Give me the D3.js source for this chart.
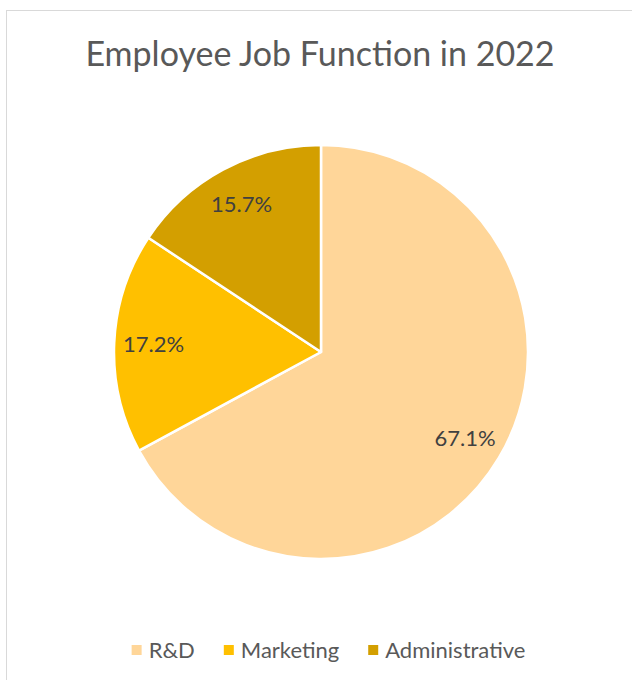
<!DOCTYPE html>
<html>
<head>
<meta charset="utf-8">
<script src="https://cdn.jsdelivr.net/npm/d3@7"></script>
<style>
  html, body { margin: 0; padding: 0; background: #fff; }
  svg { display: block; font-family: Lato, "Open Sans", sans-serif; }
</style>
</head>
<body>
<svg id="chart" width="632" height="680"></svg>
<script>
// Job function shares of employees, 2022
const categories = ["R&D", "Marketing", "Administrative"];
const shares = [67.1, 17.2, 15.7];
const colors = ["#FFD699", "#FFC000", "#D39F00"];
const title = "Employee Job Function in 2022";

const svg = d3.select("#chart");
const W = 632, H = 680;

// chart frame
svg.append("rect")
  .attr("x", 6.5).attr("y", 10.5)
  .attr("width", W + 20).attr("height", H + 20)
  .attr("fill", "#fff")
  .attr("stroke", "#d9d9d9")
  .attr("stroke-width", 1);

svg.append("text")
  .attr("x", 320).attr("y", 66)
  .attr("text-anchor", "middle")
  .attr("fill", "#595959")
  .attr("font-size", 34)
  .text(title);

const cx = 321, cy = 352, r = 207;
const data = categories.map((c, i) => ({ name: c, value: shares[i], color: colors[i] }));

const pie = d3.pie().value(d => d.value).sort(null);
const arc = d3.arc().innerRadius(0).outerRadius(r);
const labelArc = d3.arc().innerRadius(r * 0.81).outerRadius(r * 0.81);

const g = svg.append("g").attr("transform", `translate(${cx},${cy})`);
const arcs = pie(data);

g.selectAll("path.slice")
  .data(arcs)
  .join("path")
  .attr("class", "slice")
  .attr("d", arc)
  .attr("fill", d => d.data.color)
  .attr("stroke", "#fff")
  .attr("stroke-width", 2.5)
  .attr("stroke-linejoin", "round");

g.selectAll("text.lbl")
  .data(arcs)
  .join("text")
  .attr("class", "lbl")
  .attr("transform", d => `translate(${labelArc.centroid(d)})`)
  .attr("text-anchor", "middle")
  .attr("dy", "0.35em")
  .attr("fill", "#404040")
  .attr("font-size", 22)
  .text(d => d.data.value.toFixed(1) + "%");

// legend, laid out left to right from measured text widths
const legend = svg.append("g");
const items = legend.selectAll("g.item")
  .data(data)
  .join("g")
  .attr("class", "item");
items.append("rect")
  .attr("width", 10).attr("height", 10)
  .attr("y", -5)
  .attr("fill", d => d.color);
items.append("text")
  .attr("x", 17)
  .attr("dy", "0.35em")
  .attr("fill", "#595959")
  .attr("font-size", 22)
  .text(d => d.name);

let xPos = 0;
const gap = 29;
items.each(function () {
  const w = 17 + this.querySelector("text").getComputedTextLength();
  d3.select(this).attr("transform", `translate(${xPos},0)`);
  xPos += w + gap;
});
const total = xPos - gap;
legend.attr("transform", `translate(${328.5 - total / 2},650)`);
</script>
</body>
</html>
